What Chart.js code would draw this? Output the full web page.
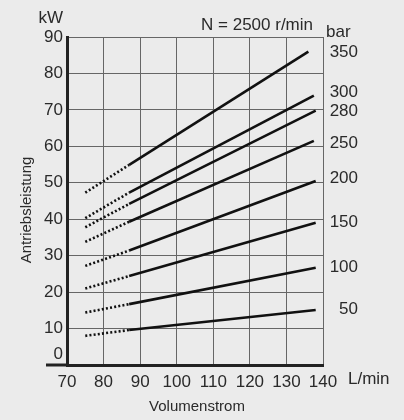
<!DOCTYPE html>
<html>
<head>
<meta charset="utf-8">
<script src="https://cdn.jsdelivr.net/npm/chart.js@4/dist/chart.umd.min.js"></script>
<style>
  html, body { margin: 0; padding: 0; background: #ebebeb; }
  #wrap { width: 404px; height: 420px; }
</style>
</head>
<body>
<div id="wrap"><canvas id="chart" width="404" height="420"></canvas></div>
<script>
// pressure curves, power (kW) over flow (L/min) at N = 2500 r/min
const pressures = [350, 300, 280, 250, 200, 150, 100, 50];
const flowStart = [75, 75, 75, 75, 75, 75, 75, 75];
const flowSolid = [87, 87, 87, 87, 87, 87, 87, 87];
const flowEnd = [136, 137.5, 138, 137.5, 138, 138, 138, 138];
const powerStart = [47.3, 40.3, 37.8, 33.8, 27.2, 21.0, 14.4, 8.0];
const powerSolid = [54.9, 47.3, 44.2, 39.3, 31.4, 24.4, 16.7, 9.6];
const powerEnd = [86.0, 73.9, 69.8, 61.5, 50.5, 39.0, 26.7, 15.1];
// where the bar labels sit on the right (kW)
const labelPower = [85.9, 74.9, 69.7, 60.9, 51.2, 39.2, 26.9, 15.4];

const FONT = '"Liberation Sans", Arial, Helvetica, sans-serif';
const TEXT = '#2a2a2a';

const datasets = pressures.map((p, i) => ({
    label: p + ' bar',
    data: [
        { x: flowStart[i], y: powerStart[i] },
        { x: flowSolid[i], y: powerSolid[i] },
        { x: flowEnd[i], y: powerEnd[i] }
    ],
    borderColor: '#111',
    borderWidth: 2.6,
    pointRadius: 0,
    tension: 0,
    segment: {
        // first piece is the dotted extrapolation
        borderDash: ctx => ctx.p0DataIndex === 0 ? [2, 2.2] : undefined
    }
}));

const extras = {
    id: 'extras',
    afterDraw(chart) {
        const { ctx, chartArea, scales } = chart;
        const x = scales.x, y = scales.y;
        ctx.save();

        // zero line runs a bit past the y axis
        ctx.strokeStyle = '#222';
        ctx.lineWidth = 3;
        const y0 = y.getPixelForValue(0);
        ctx.beginPath();
        ctx.moveTo(chartArea.left - 21, y0);
        ctx.lineTo(chartArea.left, y0);
        ctx.stroke();

        ctx.fillStyle = TEXT;
        ctx.font = '17px ' + FONT;
        ctx.textBaseline = 'middle';

        ctx.textAlign = 'right';
        ctx.fillText('kW', chartArea.left - 4, 18);
        ctx.fillText('N = 2500 r/min', chartArea.right - 10, 25);

        ctx.textAlign = 'left';
        ctx.fillText('bar', chartArea.right + 3, 32);
        ctx.fillText('L/min', chartArea.right + 25, x.bottom - 41);

        ctx.textAlign = 'right';
        pressures.forEach((p, i) => {
            ctx.fillText(String(p), chartArea.right + 35, y.getPixelForValue(labelPower[i]));
        });

        // axis titles
        ctx.textAlign = 'center';
        ctx.font = '15px ' + FONT;
        ctx.fillText('Volumenstrom', (chartArea.left + chartArea.right) / 2 + 2, 407);
        ctx.translate(27, 210);
        ctx.rotate(-Math.PI / 2);
        ctx.fillText('Antriebsleistung', 0, 0);
        ctx.restore();
    }
};

new Chart(document.getElementById('chart'), {
    type: 'line',
    data: { datasets },
    options: {
        responsive: false,
        animation: false,
        layout: { padding: { left: 0, top: 37, right: 81, bottom: 0 } },
        plugins: {
            legend: { display: false },
            tooltip: { enabled: false }
        },
        scales: {
            x: {
                type: 'linear',
                min: 70,
                max: 140,
                afterFit: s => { s.height = 55; },
                ticks: { stepSize: 10, autoSkip: false, maxRotation: 0, padding: 7, color: TEXT, font: { family: FONT, size: 17 } },
                grid: { color: '#666', lineWidth: 1, drawTicks: false },
                border: { color: '#222', width: 3 }
            },
            y: {
                min: 0,
                max: 90,
                afterFit: s => { s.width = 67; },
                ticks: {
                    stepSize: 10,
                    autoSkip: false,
                    padding: 4,
                    color: TEXT,
                    font: { family: FONT, size: 17 },
                    // lift the 0 above the axis line
                    callback: v => v === 0 ? ['0', ''] : String(v)
                },
                grid: { color: '#666', lineWidth: 1, drawTicks: false },
                border: { color: '#222', width: 3 }
            }
        }
    },
    plugins: [extras]
});
</script>
</body>
</html>
